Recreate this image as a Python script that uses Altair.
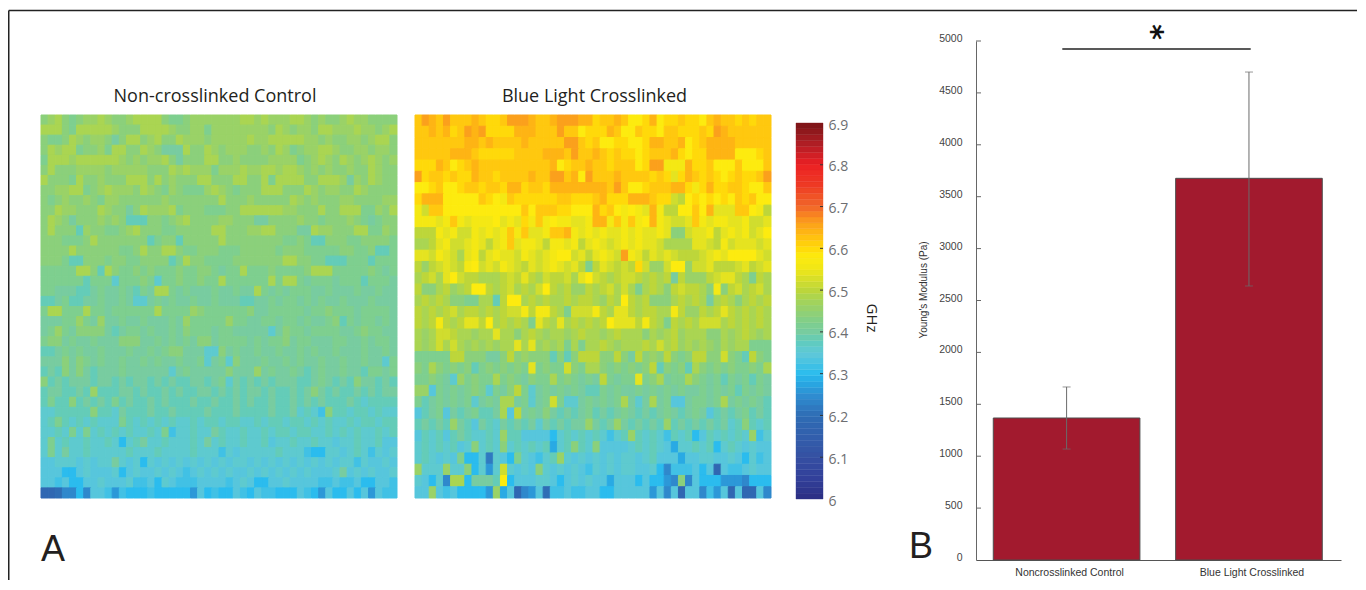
import altair as alt
import pandas as pd

# One character per cell: value = 6.10 + 0.02 * position in CODES
CODES = "0123456789abcdefghijklmnopqrstuvw"

left_rows = [
"hijhghiiji hhijjjjhgg hiiiiiiijj ijiiijjihi hhijiihhhh",
"jjjhgjjjjj ihhhjjjjih hiigiiiiii iihjihiihj jiiijiihij",
"hgghjihiih fhjjhijhhj iiihiiiiij iijjjjjiih ihhiihijjh",
"hjijjghhig jjhhjihfff jhhjihiiih hihjighiij jihhiihiih",
"gjjjijjjjj jihihiijhf hhhjjhhihh hhiiiighij ihjihijihi",
"hjhhhiiiih iiiiihhhji jiiigiiiji ijjijjihih ihhihhjihh",
"jhhhgjhhih hhjjjhjhih hhjjhhhjjh hjgjjjjhhj jjifihjihh",
"hhiijjghij iiihjihgih gggijihghh hjjjhhhjih iihhjihhhh",
"hghihhihgi ihhhhhhihh hhhhhjhhhi hhhhhjihih hhiihhhhii",
"hhjiihhhji hhfhjiiijg hhhggghhjj jjjjiihhhj hhjjjggihj",
"hjihfhhhih iheeehhghi jhhhhiihhh ffhhhhihhg hhhihgfghh",
"hjhhheihhg ghijhhhggh hhhhjjhhhi ijjhhhffji ihhhjjggih",
"hhhggghjhh hhhhheghhe hhhhhjhhhh hhhhgghgee hhhgghhhhg",
"hhhhjhhhhh hgghjhhjjh gghhhggghh hhhghhhggg gghhggheeg",
"hhhgeehhhg hhgghhhheg jhhgggghhh hhhhjjhhgg eeegggeggg",
"gggggjjhej hgghghgggh gghhgfggjg gghgggghjj jggggghgfg",
"ggggggeggg dggghgdggh gghggjgggg ggjgjjgfgg gfgggegggf",
"ggfffeefgf fgfegfjjgf gfffgffgff jgfgfgggff gfffgffgff",
"eefgeeffgf fgfddfgfgf fgffgfffee ffgfggfgfg ffgfffgfff",
"gjjgggjggf ggggggjggg gihggggggh ffgggggfgg hgggfggggf",
"fffggigfif fgffgfffgf igggggiggf fggfggfgff ghegfggfgf",
"fgigfhhhhf efggfgffgf hgggfggfff ffdfhggfgg ggffghggff",
"ghhfgffgff fhhhffgfgf gfhhfggggf gfgghfggff fggffgfggf",
"eefgfgffgf ffgffgfghh fffddhfgff gffgffgfgf fgfffgffgf",
"fffhfhgfgf fgffgfgffg ffgdfgdhff fgffgfgffg ffgffgffdg",
"efehfhfeff fgffffffdf gfffffhfff ifgffgfefg ffgffeggfg",
"hefefffeff efeffefefe effefgdfef efefffeefg fefehffefe",
"effeefeiee effefeefef eeffefefef fefeefefhf efeefefeff",
"egeehefefe gefeefefee efeefeefef eefeefefef eeefedeeee",
"ddeeeeehee dfeeefeefe eeefeeefee eefeefdedb heedeededd",
"degedededd dgedededed dedeedeedd edeedeeded eddedeedee",
"ddedgdgded ededdedgbd deddfedded dedeedeedd edededdede",
"dgdeddedde dadefddedd dedfdedded decddedded dcddeddecc",
"dgdfddeddd ddedddeddd dedddbdcdd dddedddbaa ddcdedbdcd",
"ccdddcdcdd fdcdadcdcd cdcdcdcddc dcdcdcdcdc dcddbdccdc",
"cccaacdccc dacdccdcdc bcdcdcdccd cdcdcdcdcc cdfcdcdccd",
"ccbcaaccdc ccdbbcadcb bbccccbcdc aaccdccccb bcbbcaaccb",
"44577a7ccb 8baaabaaaa a8cabaacba cbbaaacba8 caacac8cbb",
]

right_rows = [
"qsrqsqqqrq ppqsssrqqr sssrrpqqrq ooproppqpp oqrqqpqpqq",
"qqrqrpqsrs pppprrrqqq sqqoppprqo oqppoqqppp qpsrqqqqqq",
"qqqqqqqrrq rqqqqrqqqq qssqpqoopp ooprrqqrop qrrrrqqqqq",
"qqqqqrrrqp ppppqqqqrr rqsqqrqpqp popqqqrpop prrrrooopq",
"ppprqopqrq qqqqqqqqqr opqqrqqpqq qopssnnnrp pqoooqoooq",
"spqqpqpprq qpqqqqrqqs sqrosqqqrq qqqpqpmprq pqpopqppqs",
"oopqoopqqp qqprrpqqpr rrrrrrrqsq oopqqqrrpn prppqqpooq",
"prrroooooq ponqpppppp qqpppqrppp rrrqpplkop opopoqpqoo",
"nlqqoooooo oooooqoqqq ppooorpqon onmrnkkooq ormmmqqonk",
"nnnmnqnmnn nomnmpnqno nnmmnrrnqn qnornmllmq nmnnmmnllm",
"kkknmnllnm nmnqnqmmnq qrnmnmnmmn mnmmnmhhlm mnkmnmnlmo",
"jjkmnllmnm kmnqmnnmkn nmnkmnmlmn mnmmljjjjm mlknlmmmlm",
"mmlnmljmnk mnmmlnmlmn oolmkmnmls nmkmlmlkkk lmnmooooml",
"kiklmlknol mlnmlkmlmn mlmkgkmlkl kpliilooil lmkkklmklm",
"jkljmolkkj jjklkmkjlk kljmolkjkl lkjkjkfkii iklmmkjgkj",
"khhjkijkoo kjkljkjlok jkiikjkljl jgjkjhklkk jhnhkljklj",
"jkjkjhhggj jekoojkjkj jkjkkjikjo kjkhhhjkjk jfjkjhjkjk",
"kjkjkljkkj kjkllnknnk jglllnkjmm kjkkjjnkii kjkmkjkjkj",
"kjknkjkmmk ojkjkjgmkj mjkjkjkomm mknkjgkjkj llljkjkjkj",
"jijllkjjij jmjjhjkjij jijkjjijkj jjhjijkijj jhhjijkjij",
"jijljljiji jijjmjmiji jgjgjjkjij jjkjljkiji jihjijjggg",
"gggggkkhhh ffhkhihhhe hehkkkhhkh fkhihkhghk khhlhgekhg",
"hgjhghgheg hghghgmghg glhgjjhghg hghkehghej hghghgghgj",
"gghgfdighg gjghgfhggj ghgfgfkgfg gmghjfggjh gfgegfgegf",
"iicgfgfghg dgfhkgdfgf gfgfeegfgf fgfgfgfgff gfgfgegfgf",
"gefgfgfgdf gfjjfgdfgl gddfgfgfgj fdfjfgccfg gfgjfgfgfe",
"cefgcfefge efjckfgfhf efefgefefg fefefgfefg fcefefgefe",
"efefeifecf edfefefdfe feffifefif efefeiefef efefdehede",
"cedecefedd edieecccca dedededbde iededbedea cedededibd",
"dededecdhd edhdedede9 dehedhcccc dededc9dde deadedcdcc",
"dedcdcgaad 6dcagdcbde idcdcdcdcd dcdeccc9cc ddccdcadbc",
"idddiddhad 8dldcdchdc dcdcbdcdcd dccda7bbbc ac4cbbcdcc",
"dcad7jjaff feoacccddc acdcdcc9cc cacaa87h7c aaa8887aaa",
"ccicbcaaaa 8i9c478c5b bcbbccaacc ccc8c7c4cc 7b8c4c44c7",
]

color_stops = [6.00, 6.05, 6.10, 6.20, 6.25, 6.30, 6.35, 6.40, 6.45, 6.50, 6.55, 6.58, 6.62, 6.66, 6.70, 6.75, 6.80, 6.85, 6.90]
color_values = ["#2b2e83", "#32409a", "#3650a2", "#2f6db5", "#2f8fd2", "#2bbcee", "#62c8d8", "#78cca0", "#94d070", "#bdd63a",
                "#f0e616", "#fdeb0f", "#ffc80f", "#fba01c", "#f1662a", "#ee3a24", "#ec2024", "#b01e24", "#7a1416"]

colorbar_levels = [round(6 + i * 0.9 / 64, 4) for i in range(64)]
colorbar_ticks = [6.1, 6.2, 6.3, 6.4, 6.5, 6.6, 6.7, 6.8]
colorbar_labels = [6.0, 6.1, 6.2, 6.3, 6.4, 6.5, 6.6, 6.7, 6.8, 6.9]

samples = ["Noncrosslinked Control", "Blue Light Crosslinked"]
modulus = [1368, 3677]
err_low = [1069, 2640]
err_high = [1667, 4701]
modulus_ticks = [0, 500, 1000, 1500, 2000, 2500, 3000, 3500, 4000, 4500, 5000]
sig_level = 4923

TEXT = "#231f20"
color_scale = alt.Scale(domain=color_stops, range=color_values, clamp=True)


def cells(rows):
    out = []
    for r, row in enumerate(rows):
        s = row.replace(" ", "")[:50].ljust(50, row[-1])
        for c, ch in enumerate(s):
            out.append({"x0": c, "x1": c + 1, "y0": r, "y1": r + 1,
                        "v": round(6.10 + 0.02 * CODES.index(ch), 2)})
    return pd.DataFrame(out)


def heat(rows, x_range):
    return alt.Chart(cells(rows)).mark_rect(strokeWidth=1).encode(
        x=alt.X("x0:Q", scale=alt.Scale(domain=[0, 50], range=x_range, nice=False, zero=False), axis=None),
        x2="x1:Q",
        y=alt.Y("y0:Q", scale=alt.Scale(domain=[0, len(rows)], range=[107, 490], nice=False, zero=False), axis=None),
        y2="y1:Q",
        color=alt.Color("v:Q", scale=color_scale, legend=None),
        stroke=alt.Stroke("v:Q", scale=color_scale, legend=None),
    )


def label(text, x, y, **kw):
    return alt.Chart(pd.DataFrame({"t": [text]})).mark_text(**kw).encode(
        x=alt.value(x), y=alt.value(y), text="t:N")


panel_title = dict(font="Open Sans", fontSize=18, color=TEXT, align="center", baseline="middle")

# frame of the figure
frame_top = alt.Chart(pd.DataFrame({"a": [0]})).mark_rule(color="#222222", strokeWidth=1.5).encode(
    x=alt.value(0.75), x2=alt.value(1349), y=alt.value(2.5))
frame_left = alt.Chart(pd.DataFrame({"a": [0]})).mark_rule(color="#222222", strokeWidth=1.5).encode(
    x=alt.value(0.75), y=alt.value(2.5), y2=alt.value(572))

p1 = alt.layer(
    frame_top, frame_left,
    heat(left_rows, [33, 389]),
    label("Non-crosslinked Control", 207, 89, **panel_title),
    label("A", 33, 553, font="Liberation Sans", fontSize=36, color=TEXT, align="left", baseline="alphabetic"),
).properties(width=389, height=490)

p2 = alt.layer(
    heat(right_rows, [18, 374]),
    label("Blue Light Crosslinked", 197.5, 89, **panel_title),
).properties(width=374, height=490)

# colour bar
cb_df = pd.DataFrame({"lo": colorbar_levels,
                      "hi": [round(v + 0.9 / 64, 4) for v in colorbar_levels],
                      "mid": [round(v + 0.45 / 64, 4) for v in colorbar_levels]})
cb_y = alt.Scale(domain=[6, 6.9], range=[491, 115], nice=False, zero=False)
cb_rect = alt.Chart(cb_df).mark_rect(strokeWidth=0.4).encode(
    x=alt.value(25), x2=alt.value(52),
    y=alt.Y("lo:Q", scale=cb_y, axis=alt.Axis(
        orient="right", values=colorbar_labels, format=".1~f", ticks=False, domain=False, grid=False,
        labelPadding=5, labelOffset=2, labelFont="Open Sans", labelFontSize=14, labelColor="#6d6e71", title=None)),
    y2="hi:Q",
    color=alt.Color("mid:Q", scale=color_scale, legend=None),
    stroke=alt.Stroke("mid:Q", scale=color_scale, legend=None),
)
cb_ticks = alt.Chart(pd.DataFrame({"v": colorbar_ticks})).mark_rule(color="#333333", strokeWidth=1).encode(
    x=alt.value(49), x2=alt.value(52), y=alt.Y("v:Q", scale=cb_y))
p3 = alt.layer(cb_rect, cb_ticks).properties(width=52, height=491)

# spacer carrying the colour bar unit and the panel letter
p4 = alt.layer(
    label("GHz", 49, 310, font="Open Sans", fontSize=15, color=TEXT, angle=90, align="center", baseline="middle"),
    label("B", 86, 550, font="Liberation Sans", fontSize=36, color=TEXT, align="left", baseline="alphabetic"),
).properties(width=153, height=491)

# bar chart
bar_df = pd.DataFrame({"s": samples, "m": modulus, "lo": err_low, "hi": err_high})
y_scale = alt.Scale(domain=[0, 5000], range=[552, 33], nice=False, zero=True)
x_scale = alt.Scale(domain=samples, paddingInner=0.196, paddingOuter=0.0987, align=0.48)
x_enc = alt.X("s:N", scale=x_scale, sort=samples, axis=alt.Axis(
    title=None, labelAngle=0, ticks=False, labelPadding=7, labelOffset=3, domainColor="#555555", domainWidth=1,
    labelFont="Liberation Sans", labelFontSize=10.5, labelColor="#333333", grid=False))
bars = alt.Chart(bar_df).mark_bar(color="#a21a2e", stroke="#4d4d4d", strokeWidth=1).encode(
    x=x_enc,
    y=alt.Y("m:Q", scale=y_scale, axis=alt.Axis(
        values=modulus_ticks, format="d", ticks=False, labelPadding=14, labelOffset=-2.5, domainColor="#666666", domainWidth=1, grid=False,
        labelFont="Liberation Sans", labelFontSize=10.5, labelColor="#444444", title=None)),
)
err = alt.Chart(bar_df).mark_rule(color="#6b6b6b", strokeWidth=1).encode(
    x=alt.X("s:N", scale=x_scale, sort=samples), y=alt.Y("lo:Q", scale=y_scale), y2="hi:Q")
cap_hi = alt.Chart(bar_df).mark_tick(color="#6b6b6b", size=8, thickness=1).encode(
    x=alt.X("s:N", scale=x_scale, sort=samples), y=alt.Y("hi:Q", scale=y_scale))
cap_lo = alt.Chart(bar_df).mark_tick(color="#6b6b6b", size=8, thickness=1).encode(
    x=alt.X("s:N", scale=x_scale, sort=samples), y=alt.Y("lo:Q", scale=y_scale))
inner_ticks = alt.Chart(pd.DataFrame({"v": modulus_ticks[1:]})).mark_rule(color="#666666", strokeWidth=1).encode(
    x=alt.value(0), x2=alt.value(5), y=alt.Y("v:Q", scale=y_scale))
sig = alt.Chart(pd.DataFrame({"v": [sig_level]})).mark_rule(color="#222222", strokeWidth=1.6).encode(
    x=alt.value(86.3), x2=alt.value(274.7), y=alt.Y("v:Q", scale=y_scale))

p5 = alt.layer(
    bars, err, cap_hi, cap_lo, inner_ticks, sig,
    label("*", 175, 24, font="DejaVu Sans", fontSize=30, fontWeight="bold", color="#111111", angle=90, align="center", baseline="middle"),
    label("Young's Modulus (Pa)", -52, 282, font="Liberation Sans", fontSize=10, color="#333333", angle=270,
          align="center", baseline="middle"),
).properties(width=365, height=552)

chart = alt.hconcat(p1, p2, p3, p4, p5, spacing=0, bounds="flush").properties(padding=0).configure_view(stroke=None)

chart.save("out.html", embed_options={"renderer": "svg", "actions": False})
